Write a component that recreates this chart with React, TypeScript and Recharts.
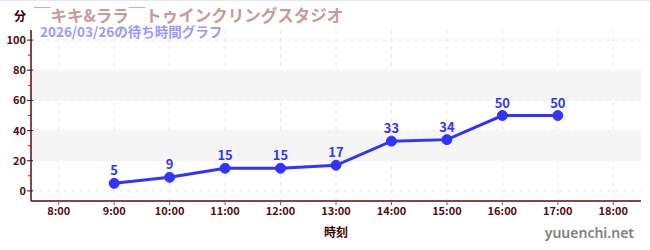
import {
  CartesianGrid,
  LabelList,
  Line,
  LineChart,
  ReferenceArea,
  XAxis,
  YAxis,
} from 'recharts';

const hours = [9, 10, 11, 12, 13, 14, 15, 16, 17];
const waits = [5, 9, 15, 15, 17, 33, 34, 50, 50];
const xTicks = [8, 9, 10, 11, 12, 13, 14, 15, 16, 17, 18];
const yTicks = [0, 10, 20, 30, 40, 50, 60, 70, 80, 90, 100];
const yGrid = [0, 20, 40, 60, 80, 100];
const bands = [
  [20, 40],
  [60, 80],
];

const title = '￣キキ&ララ￣トゥインクリングスタジオ';
const subtitle = '2026/03/26の待ち時間グラフ';

const data = hours.map((h, i) => ({ hour: h, wait: waits[i] }));

const FONT = '"Noto Sans CJK JP", "Noto Sans", sans-serif';
const AXIS = '#5a0a0a';
const BLUE = '#3333ff';

// recharts hands the tick x at axis - tickSize - tickMargin (8px left of the axis line)
function YTick(props: any) {
  const { x, y, payload } = props;
  const ax = x + 8;
  const v = payload.value as number;
  if (v % 20 !== 0) {
    return <line x1={ax - 3} x2={ax} y1={y} y2={y} stroke="#d00" strokeWidth={1} />;
  }
  return (
    <g>
      <line x1={ax - 4} x2={ax + 2} y1={y} y2={y} stroke="#222" strokeWidth={1} />
      <text
        x={ax - 5}
        y={y}
        dy={4}
        textAnchor="end"
        fontSize={11}
        fontWeight={700}
        fill={AXIS}
        fontFamily={FONT}
      >
        {v}
      </text>
    </g>
  );
}

export default function App() {
  return (
    <div
      style={{
        position: 'absolute',
        left: 0,
        top: 0,
        width: 650,
        height: 250,
        background: '#fff',
        fontFamily: FONT,
        borderTop: '1px solid #e6e6f5',
        boxSizing: 'border-box',
      }}
    >
      <div
        style={{
          position: 'absolute',
          left: 14,
          top: 6,
          fontSize: 12,
          fontWeight: 700,
          color: '#3a0000',
          zIndex: 2,
        }}
      >
        分
      </div>
      <div
        style={{
          position: 'absolute',
          left: 34,
          top: 2,
          fontSize: 16.5,
          fontWeight: 700,
          color: '#c89a9a',
          whiteSpace: 'nowrap',
          zIndex: 2,
        }}
      >
        {title}
      </div>
      <div
        style={{
          position: 'absolute',
          left: 40,
          top: 20,
          fontSize: 13.5,
          fontWeight: 700,
          color: '#9999ff',
          whiteSpace: 'nowrap',
          zIndex: 2,
        }}
      >
        {subtitle}
      </div>
      <div
        style={{
          position: 'absolute',
          left: 0,
          width: 672,
          top: 222,
          textAlign: 'center',
          fontSize: 12,
          fontWeight: 700,
          color: '#3a0000',
        }}
      >
        時刻
      </div>
      <div
        style={{
          position: 'absolute',
          right: 16,
          top: 222,
          fontSize: 14,
          fontWeight: 600,
          color: '#808080',
          fontFamily: '"Noto Sans", sans-serif',
        }}
      >
        yuuenchi.net
      </div>
      <LineChart
        width={650}
        height={250}
        data={data}
        margin={{ top: 29, right: 9, left: 0, bottom: 20 }}
      >
        {bands.map(([a, b]) => (
          <ReferenceArea
            key={a}
            y1={a}
            y2={b}
            fill="#f5f5f5"
            fillOpacity={1}
            stroke="none"
            ifOverflow="visible"
          />
        ))}
        <CartesianGrid
          stroke="#e6e6e6"
          strokeDasharray="4 4"
          horizontalValues={yGrid}
          verticalValues={xTicks}
        />
        <XAxis
          dataKey="hour"
          type="number"
          domain={[7.5, 18.5]}
          ticks={xTicks}
          tickFormatter={(v) => `${v}:00`}
          interval={0}
          height={30}
          axisLine={{ stroke: AXIS, strokeWidth: 1.5 }}
          tickLine={{ stroke: '#666' }}
          tickSize={4}
          tick={{ fill: AXIS, fontSize: 11, fontWeight: 700, fontFamily: FONT }}
        />
        <YAxis
          type="number"
          domain={[-6.7, 106.7]}
          ticks={yTicks}
          interval={0}
          width={31}
          axisLine={{ stroke: AXIS, strokeWidth: 1.5 }}
          tickLine={false}
          tick={<YTick />}
        />
        <Line
          type="linear"
          dataKey="wait"
          stroke={BLUE}
          strokeWidth={3}
          dot={{ r: 5, fill: BLUE, stroke: BLUE, strokeWidth: 1 }}
          activeDot={false}
          isAnimationActive={false}
        >
          <LabelList
            dataKey="wait"
            position="top"
            offset={8}
            fill={BLUE}
            fontSize={13}
            fontWeight={700}
            fontFamily={FONT}
          />
        </Line>
      </LineChart>
    </div>
  );
}
